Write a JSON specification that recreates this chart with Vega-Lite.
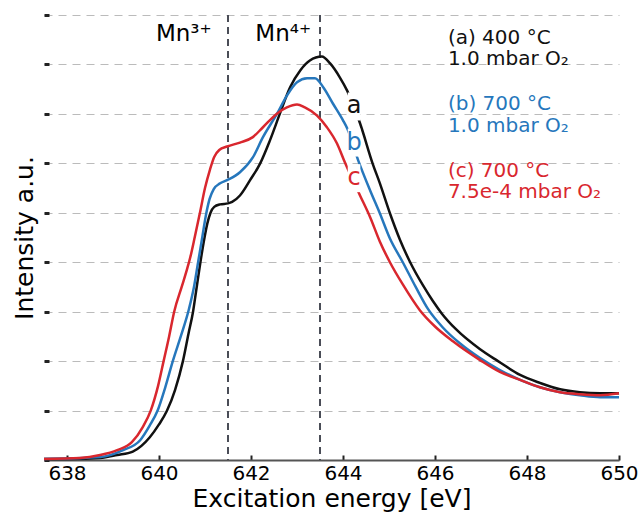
{
  "$schema": "https://vega.github.io/schema/vega-lite/v6.json",
  "width": 575,
  "height": 445,
  "autosize": {"type": "none"},
  "padding": {"left": 44, "top": 15, "right": 21, "bottom": 56},
  "background": "white",
  "config": {"view": {"stroke": null}, "font": "DejaVu Sans"},
  "datasets": {
    "curves": [
      {"s":"a","E":637.5,"I":0.02},{"s":"a","E":638.07,"I":0.02},{"s":"a","E":638.72,"I":0.04},{"s":"a","E":639.09,"I":0.10},{"s":"a","E":639.43,"I":0.17},{"s":"a","E":639.80,"I":0.46},{"s":"a","E":640.00,"I":0.72},{"s":"a","E":640.17,"I":0.99},{"s":"a","E":640.35,"I":1.42},{"s":"a","E":640.52,"I":2.00},{"s":"a","E":640.64,"I":2.55},{"s":"a","E":640.74,"I":3.00},{"s":"a","E":640.82,"I":3.50},{"s":"a","E":640.90,"I":4.00},{"s":"a","E":640.98,"I":4.45},{"s":"a","E":641.05,"I":4.78},{"s":"a","E":641.12,"I":5.00},{"s":"a","E":641.20,"I":5.12},{"s":"a","E":641.33,"I":5.17},{"s":"a","E":641.50,"I":5.19},{"s":"a","E":641.59,"I":5.22},{"s":"a","E":641.76,"I":5.35},{"s":"a","E":641.98,"I":5.66},{"s":"a","E":642.20,"I":6.00},{"s":"a","E":642.41,"I":6.46},{"s":"a","E":642.63,"I":7.01},{"s":"a","E":642.85,"I":7.54},{"s":"a","E":643.07,"I":7.88},{"s":"a","E":643.28,"I":8.08},{"s":"a","E":643.54,"I":8.16},{"s":"a","E":643.72,"I":8.02},{"s":"a","E":643.93,"I":7.74},{"s":"a","E":644.09,"I":7.47},{"s":"a","E":644.37,"I":6.81},{"s":"a","E":644.65,"I":5.98},{"s":"a","E":644.80,"I":5.60},{"s":"a","E":645.02,"I":4.99},{"s":"a","E":645.24,"I":4.45},{"s":"a","E":645.46,"I":4.00},{"s":"a","E":645.74,"I":3.53},{"s":"a","E":645.95,"I":3.22},{"s":"a","E":646.15,"I":2.96},{"s":"a","E":646.45,"I":2.65},{"s":"a","E":646.98,"I":2.24},{"s":"a","E":647.37,"I":2.00},{"s":"a","E":647.85,"I":1.72},{"s":"a","E":648.28,"I":1.56},{"s":"a","E":648.72,"I":1.43},{"s":"a","E":649.15,"I":1.37},{"s":"a","E":649.59,"I":1.35},{"s":"a","E":650.0,"I":1.35},
      {"s":"b","E":637.5,"I":0.02},{"s":"b","E":638.72,"I":0.06},{"s":"b","E":639.22,"I":0.20},{"s":"b","E":639.59,"I":0.40},{"s":"b","E":639.80,"I":0.70},{"s":"b","E":639.97,"I":1.00},{"s":"b","E":640.13,"I":1.45},{"s":"b","E":640.30,"I":2.00},{"s":"b","E":640.48,"I":2.52},{"s":"b","E":640.65,"I":3.05},{"s":"b","E":640.76,"I":3.50},{"s":"b","E":640.85,"I":4.00},{"s":"b","E":640.94,"I":4.50},{"s":"b","E":641.02,"I":4.95},{"s":"b","E":641.10,"I":5.28},{"s":"b","E":641.19,"I":5.48},{"s":"b","E":641.32,"I":5.59},{"s":"b","E":641.48,"I":5.66},{"s":"b","E":641.76,"I":5.82},{"s":"b","E":642.04,"I":6.12},{"s":"b","E":642.26,"I":6.53},{"s":"b","E":642.57,"I":7.01},{"s":"b","E":642.78,"I":7.37},{"s":"b","E":643.00,"I":7.64},{"s":"b","E":643.22,"I":7.72},{"s":"b","E":643.39,"I":7.72},{"s":"b","E":643.57,"I":7.54},{"s":"b","E":643.78,"I":7.21},{"s":"b","E":644.00,"I":6.87},{"s":"b","E":644.09,"I":6.71},{"s":"b","E":644.33,"I":6.06},{"s":"b","E":644.59,"I":5.45},{"s":"b","E":644.80,"I":4.99},{"s":"b","E":645.02,"I":4.48},{"s":"b","E":645.30,"I":4.00},{"s":"b","E":645.58,"I":3.50},{"s":"b","E":645.85,"I":3.05},{"s":"b","E":646.17,"I":2.68},{"s":"b","E":646.54,"I":2.36},{"s":"b","E":646.98,"I":2.06},{"s":"b","E":647.41,"I":1.82},{"s":"b","E":647.85,"I":1.62},{"s":"b","E":648.28,"I":1.47},{"s":"b","E":648.72,"I":1.37},{"s":"b","E":649.15,"I":1.31},{"s":"b","E":649.59,"I":1.27},{"s":"b","E":650.0,"I":1.27},
      {"s":"c","E":637.5,"I":0.02},{"s":"c","E":638.28,"I":0.04},{"s":"c","E":638.72,"I":0.10},{"s":"c","E":639.09,"I":0.20},{"s":"c","E":639.41,"I":0.36},{"s":"c","E":639.65,"I":0.67},{"s":"c","E":639.82,"I":1.00},{"s":"c","E":639.98,"I":1.50},{"s":"c","E":640.10,"I":2.00},{"s":"c","E":640.22,"I":2.50},{"s":"c","E":640.33,"I":3.00},{"s":"c","E":640.50,"I":3.52},{"s":"c","E":640.61,"I":3.86},{"s":"c","E":640.68,"I":4.10},{"s":"c","E":640.78,"I":4.52},{"s":"c","E":640.89,"I":5.00},{"s":"c","E":641.00,"I":5.50},{"s":"c","E":641.11,"I":5.88},{"s":"c","E":641.20,"I":6.13},{"s":"c","E":641.31,"I":6.27},{"s":"c","E":641.48,"I":6.34},{"s":"c","E":641.76,"I":6.42},{"s":"c","E":642.04,"I":6.53},{"s":"c","E":642.26,"I":6.73},{"s":"c","E":642.57,"I":7.01},{"s":"c","E":642.78,"I":7.13},{"s":"c","E":643.00,"I":7.19},{"s":"c","E":643.17,"I":7.13},{"s":"c","E":643.43,"I":6.97},{"s":"c","E":643.65,"I":6.73},{"s":"c","E":643.87,"I":6.40},{"s":"c","E":644.04,"I":6.02},{"s":"c","E":644.37,"I":5.35},{"s":"c","E":644.59,"I":4.91},{"s":"c","E":644.80,"I":4.42},{"s":"c","E":645.02,"I":4.00},{"s":"c","E":645.30,"I":3.55},{"s":"c","E":645.67,"I":3.03},{"s":"c","E":646.00,"I":2.70},{"s":"c","E":646.39,"I":2.40},{"s":"c","E":646.98,"I":2.02},{"s":"c","E":647.41,"I":1.78},{"s":"c","E":647.85,"I":1.62},{"s":"c","E":648.28,"I":1.47},{"s":"c","E":648.72,"I":1.37},{"s":"c","E":649.15,"I":1.33},{"s":"c","E":649.59,"I":1.31},{"s":"c","E":650.0,"I":1.35}
    ],
    "letters": [
      {"s":"a","E":644.24,"I":7.01,"Ic":7.15,"t":"a"},
      {"s":"b","E":644.24,"I":6.26,"Ic":6.42,"t":"b"},
      {"s":"c","E":644.24,"I":5.56,"Ic":5.70,"t":"c"}
    ],
    "conditions": [
      {"s":"a","E":646.28,"I":8.42,"t":"(a) 400 °C"},
      {"s":"a","E":646.28,"I":7.98,"t":"1.0 mbar O₂"},
      {"s":"b","E":646.28,"I":7.07,"t":"(b) 700 °C"},
      {"s":"b","E":646.28,"I":6.63,"t":"1.0 mbar O₂"},
      {"s":"c","E":646.28,"I":5.72,"t":"(c) 700 °C"},
      {"s":"c","E":646.28,"I":5.29,"t":"7.5e-4 mbar O₂"}
    ],
    "ions": [
      {"E":640.54,"I":8.48,"t":"Mn³⁺"},
      {"E":642.70,"I":8.48,"t":"Mn⁴⁺"}
    ],
    "rules": [{"E":641.5},{"E":643.5}]
  },
  "layer": [
    {
      "data": {"name": "rules"},
      "mark": {"type": "rule", "strokeDash": [7, 5], "strokeWidth": 2, "color": "#4a4d57"},
      "encoding": {
        "x": {
          "field": "E", "type": "quantitative",
          "scale": {"domain": [637.5, 650], "nice": false, "zero": false},
          "title": "Excitation energy [eV]",
          "axis": {
            "values": [638, 640, 642, 644, 646, 648, 650],
            "format": "d",
            "grid": false,
            "labelFontSize": 20,
            "labelColor": "#000",
            "labelFlush": false,
            "labelOverlap": false,
            "labelPadding": 8,
            "tickSize": -5,
            "tickWidth": 2,
            "tickColor": "#222",
            "domainColor": "#555",
            "domainWidth": 2,
            "titleFontSize": 25,
            "titleFontWeight": "normal",
            "titleColor": "#000",
            "titlePadding": 3
          }
        }
      }
    },
    {
      "data": {"name": "curves"},
      "mark": {"type": "line", "strokeWidth": 2.5, "interpolate": "monotone"},
      "encoding": {
        "x": {"field": "E", "type": "quantitative"},
        "y": {
          "field": "I", "type": "quantitative",
          "scale": {"domain": [0, 9], "nice": false, "zero": false},
          "title": "Intensity a.u.",
          "axis": {
            "values": [0, 1, 2, 3, 4, 5, 6, 7, 8, 9],
            "labels": false,
            "domain": false,
            "tickSize": -5,
            "tickWidth": 3,
            "tickColor": "#222",
            "grid": true,
            "gridDash": [8, 6],
            "gridColor": "#bbbbbb",
            "gridWidth": 1,
            "titleFontSize": 25,
            "titleFontWeight": "normal",
            "titleColor": "#000",
            "titlePadding": 5
          }
        },
        "color": {
          "field": "s", "type": "nominal",
          "scale": {"domain": ["a", "b", "c"], "range": ["#111111", "#2677bc", "#d9272e"]},
          "legend": null
        }
      }
    },
    {
      "data": {"name": "letters"},
      "mark": {"type": "point", "shape": "M-0.45,-1H0.45V1H-0.45Z", "size": 784, "filled": true, "fill": "white", "strokeWidth": 0, "opacity": 1},
      "encoding": {
        "x": {"field": "E", "type": "quantitative"},
        "y": {"field": "Ic", "type": "quantitative"}
      }
    },
    {
      "data": {"name": "letters"},
      "mark": {"type": "text", "fontSize": 24, "align": "center", "baseline": "alphabetic"},
      "encoding": {
        "x": {"field": "E", "type": "quantitative"},
        "y": {"field": "I", "type": "quantitative"},
        "text": {"field": "t"},
        "color": {"field": "s", "type": "nominal", "legend": null}
      }
    },
    {
      "data": {"name": "conditions"},
      "mark": {"type": "text", "fontSize": 20, "align": "left", "baseline": "alphabetic"},
      "encoding": {
        "x": {"field": "E", "type": "quantitative"},
        "y": {"field": "I", "type": "quantitative"},
        "text": {"field": "t"},
        "color": {"field": "s", "type": "nominal", "legend": null}
      }
    },
    {
      "data": {"name": "ions"},
      "mark": {"type": "text", "fontSize": 23, "align": "center", "baseline": "alphabetic", "color": "#000"},
      "encoding": {
        "x": {"field": "E", "type": "quantitative"},
        "y": {"field": "I", "type": "quantitative"},
        "text": {"field": "t"}
      }
    }
  ]
}
